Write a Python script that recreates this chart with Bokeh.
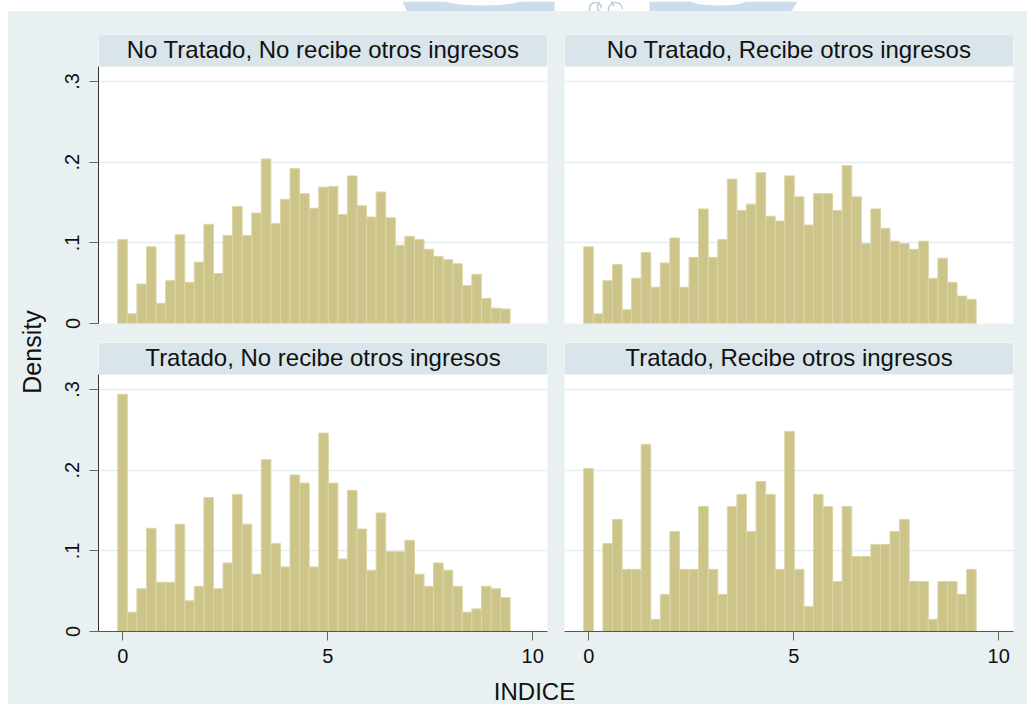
import math
import numpy as np
from bokeh.plotting import figure
from bokeh.layouts import row, column
from bokeh.models import (Range1d, LinearAxis, Grid, FixedTicker, BoxAnnotation,
                          Label, CustomJSTickFormatter, Spacer)
from bokeh.embed import file_html
from bokeh.resources import INLINE
from bokeh.core.properties import value

# Histogram densities of INDICE (41 bins) for each group
no_trat_no_otros = [0.104, 0.012, 0.049, 0.095, 0.025, 0.053, 0.110, 0.051, 0.076, 0.123,
                    0.062, 0.109, 0.145, 0.109, 0.137, 0.204, 0.124, 0.154, 0.192, 0.161,
                    0.143, 0.169, 0.170, 0.135, 0.183, 0.146, 0.132, 0.163, 0.131, 0.097,
                    0.108, 0.104, 0.092, 0.083, 0.079, 0.074, 0.047, 0.061, 0.031, 0.019,
                    0.018]
no_trat_otros = [0.095, 0.012, 0.053, 0.073, 0.017, 0.056, 0.088, 0.045, 0.075, 0.106,
                 0.045, 0.082, 0.142, 0.082, 0.104, 0.179, 0.140, 0.148, 0.187, 0.133,
                 0.127, 0.183, 0.157, 0.122, 0.161, 0.161, 0.140, 0.196, 0.157, 0.099,
                 0.142, 0.118, 0.102, 0.099, 0.092, 0.102, 0.056, 0.081, 0.051, 0.034,
                 0.030]
trat_no_otros = [0.294, 0.024, 0.053, 0.128, 0.061, 0.061, 0.133, 0.038, 0.056, 0.166,
                 0.053, 0.085, 0.170, 0.133, 0.071, 0.213, 0.109, 0.080, 0.194, 0.184,
                 0.080, 0.246, 0.184, 0.090, 0.175, 0.127, 0.076, 0.147, 0.099, 0.099,
                 0.113, 0.071, 0.056, 0.085, 0.076, 0.056, 0.024, 0.028, 0.056, 0.053,
                 0.042]
trat_otros = [0.202, 0.000, 0.109, 0.139, 0.077, 0.077, 0.232, 0.015, 0.046, 0.124,
              0.077, 0.077, 0.155, 0.077, 0.046, 0.155, 0.170, 0.124, 0.186, 0.170,
              0.077, 0.248, 0.077, 0.031, 0.170, 0.155, 0.062, 0.155, 0.093, 0.093,
              0.108, 0.108, 0.124, 0.139, 0.062, 0.062, 0.015, 0.062, 0.062, 0.046,
              0.077]

panel_titles = ["No Tratado, No recibe otros ingresos", "No Tratado, Recibe otros ingresos",
                "Tratado, No recibe otros ingresos", "Tratado, Recibe otros ingresos"]
x_ticks = [0, 5, 10]
y_ticks = [0, 0.1, 0.2, 0.3]
x_title = "INDICE"
y_title = "Density"

BIN_START = -0.12
BIN_WIDTH = 0.2334

# styling
BG = "#e8f0f2"
STRIP = "#d9e5ea"
GRID = "#e4edf0"
BAR_FILL = "#ccc488"
BAR_LINE = "#dbd5a7"
FONT = "Liberation Sans"
X0, X1 = -0.59, 10.36
Y1 = 0.3583
STRIP_BOTTOM = 0.3186
STRIP_TEXT_Y = 0.3397

edges = BIN_START + BIN_WIDTH * np.arange(len(no_trat_no_otros) + 1)

tick_fmt = CustomJSTickFormatter(code="""
    if (tick == 0) { return '0'; }
    return tick.toFixed(1).replace(/^0/, '');
""")


def base_figure(width, height, xr, yr, fill, frame_fill, borders):
    p = figure(width=width, height=height, x_range=Range1d(*xr), y_range=Range1d(*yr),
               x_axis_location=None, y_axis_location=None, toolbar_location=None,
               output_backend="svg", min_border_left=borders[0],
               min_border_right=borders[1], min_border_top=borders[2],
               min_border_bottom=borders[3], border_fill_color=fill,
               background_fill_color=frame_fill, outline_line_color=None)
    p.grid.visible = False
    return p


def panel(vals, title, width, height, mb, left_axis, bottom_axis):
    p = base_figure(width, height, (X0, X1), (0, Y1), BG, "white", mb)
    p.add_layout(Grid(dimension=1, ticker=FixedTicker(ticks=[0.1, 0.2, 0.3]),
                      grid_line_color=GRID, grid_line_width=1.5))
    p.quad(left=edges[:-1], right=edges[1:], bottom=0, top=vals,
           fill_color=BAR_FILL, line_color=BAR_LINE, line_width=1)
    p.add_layout(BoxAnnotation(bottom=STRIP_BOTTOM, fill_color=STRIP, fill_alpha=1,
                               line_color=None))
    p.add_layout(Label(x=(X0 + X1) / 2, y=STRIP_TEXT_Y, text=title, text_align="center",
                       text_baseline="middle", text_font=FONT, text_font_size="24px",
                       text_color="#111111"))
    if left_axis:
        ax = LinearAxis(ticker=FixedTicker(ticks=y_ticks), formatter=tick_fmt,
                        bounds=(0, STRIP_BOTTOM))
        ax.axis_line_color = "#333333"
        ax.major_tick_line_color = "#666666"
        ax.major_tick_out = 9
        ax.major_tick_in = 0
        ax.minor_tick_out = 0
        ax.minor_tick_in = 0
        ax.major_label_standoff = 10
        ax.major_label_orientation = "parallel"
        ax.major_label_text_font = FONT
        ax.major_label_text_font_size = "20px"
        ax.major_label_text_color = "#111111"
        p.add_layout(ax, "left")
    if bottom_axis:
        ax = LinearAxis(ticker=FixedTicker(ticks=x_ticks))
        ax.axis_line_color = "#555555"
        ax.major_tick_line_color = "#666666"
        ax.major_tick_out = 9
        ax.major_tick_in = 0
        ax.minor_tick_out = 0
        ax.minor_tick_in = 0
        ax.major_label_standoff = 8
        ax.major_label_text_font = FONT
        ax.major_label_text_font_size = "20px"
        ax.major_label_text_color = "#111111"
        p.add_layout(ax, "below")
    return p


tl = panel(no_trat_no_otros, panel_titles[0], 509, 327, (52, 8, 23, 15), True, False)
tr = panel(no_trat_otros, panel_titles[1], 472, 327, (9, 14, 23, 15), False, False)
bl = panel(trat_no_otros, panel_titles[2], 509, 339, (52, 8, 4, 46), True, True)
br = panel(trat_otros, panel_titles[3], 472, 339, (9, 14, 4, 46), False, True)

# faint crest at the top of the page
head = base_figure(1027, 11, (0, 1027), (0, 11), "white", "white", (0, 0, 0, 0))
head.patches(xs=[[402, 554, 554, 407], [649, 797, 790, 649]],
             ys=[[11, 11, 0, 0], [11, 11, 0, 0]],
             fill_color="#cbdcec", line_color=None)
head.ellipse(x=[482, 718], y=[13, 13], width=[80, 60], height=[12, 12],
             fill_color="white", line_color=None)
head.arc(x=[595, 605, 615], y=[4, 6, 3], radius=[6, 8, 7], start_angle=0,
         end_angle=math.pi * 1.6, line_color="#b8cde3", line_width=1.5)

# vertical axis title (page coordinates: x from the left, y = 677 - page y)
ylab = base_figure(38, 666, (8, 46), (0, 666), BG, BG, (0, 0, 0, 0))
ylab.text(x=[31.3], y=[677 - 351.5], text=[y_title], angle=math.pi / 2,
          text_align="center", text_baseline="middle",
          text_font=value(FONT), text_font_size="25px", text_color="#111111")

# horizontal axis title (y = 704 - page y)
xlab = base_figure(1019, 27, (8, 1027), (0, 27), BG, BG, (0, 0, 0, 0))
xlab.text(x=[534], y=[704 - 691.2], text=[x_title], text_align="center",
          text_baseline="middle", text_font=value(FONT), text_font_size="24px",
          text_color="#111111")

gray = {"background-color": BG}
white = {"background-color": "white"}
layout = column(
    head,
    row(Spacer(width=8, height=666, styles=white), ylab,
        column(row(tl, tr, styles=gray), row(bl, br, styles=gray), styles=gray),
        styles=gray),
    row(Spacer(width=8, height=27, styles=white), xlab, styles=gray),
)

open("out.html", "w").write(file_html(layout, INLINE))
